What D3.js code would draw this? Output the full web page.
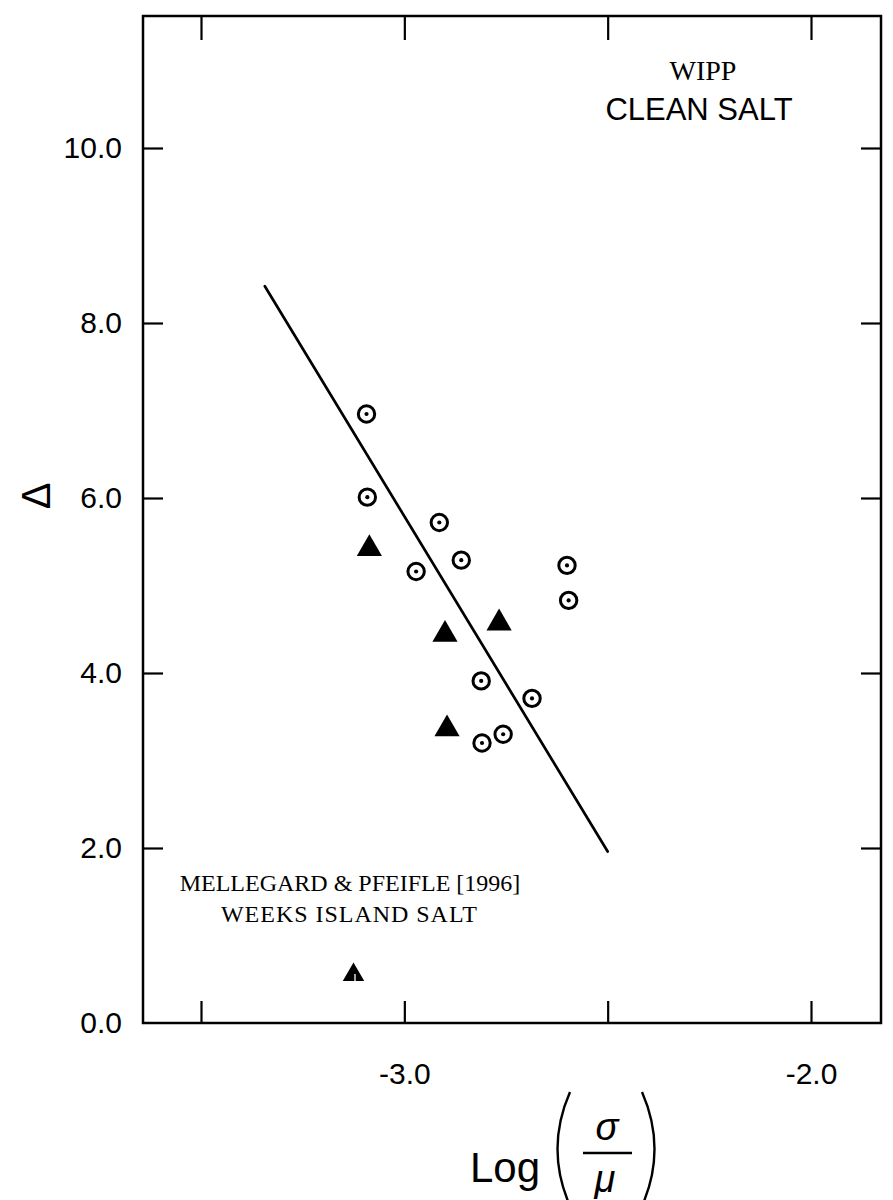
<!DOCTYPE html>
<html>
<head>
<meta charset="utf-8">
<script src="https://cdn.jsdelivr.net/npm/d3@7/dist/d3.min.js"></script>
<style>
  html, body { margin: 0; padding: 0; background: #fff; }
  svg { display: block; }
</style>
</head>
<body>
<svg id="chart" width="893" height="1200"></svg>
<script>
// ---- data ----
const wippX = [-3.093, -3.091, -2.914, -2.860, -2.971, -2.600, -2.596, -2.811, -2.686, -2.809, -2.757];
const wippY = [6.96, 6.01, 5.72, 5.29, 5.16, 5.23, 4.83, 3.91, 3.71, 3.20, 3.30];
const triX = [-3.086, -2.900, -2.767, -2.895];
const triY = [5.42, 4.44, 4.57, 3.36];
const weeksX = [-3.125];
const weeksY = [0.55];
const fitX = [-3.343, -2.50];
const fitY = [8.42, 1.96];
const xTicks = [-3.5, -3.0, -2.5, -2.0];
const xTickLabels = ["", "-3.0", "", "-2.0"];
const yTicks = [0, 2, 4, 6, 8, 10];

// ---- layout ----
const frame = { left: 143, right: 881, top: 16, bottom: 1023 };
const svg = d3.select("#chart");
const x = d3.scaleLinear().domain([-3.5, -2.0]).range([201, 811]);
const y = d3.scaleLinear().domain([0, 10]).range([1023, 148]);
const sans = "Arial, 'Liberation Sans', Helvetica, sans-serif";
const serif = "'Liberation Serif', 'Times New Roman', serif";

// frame
svg.append("rect")
  .attr("x", frame.left).attr("y", frame.top)
  .attr("width", frame.right - frame.left).attr("height", frame.bottom - frame.top)
  .attr("fill", "none").attr("stroke", "#000").attr("stroke-width", 2.5);

// bottom axis
const gx = svg.append("g").attr("transform", `translate(0,${frame.bottom})`)
  .call(d3.axisBottom(x).tickValues(xTicks).tickSize(-22).tickPadding(40)
        .tickFormat((d, i) => xTickLabels[i]));
// top axis ticks
const gxt = svg.append("g").attr("transform", `translate(0,${frame.top})`)
  .call(d3.axisTop(x).tickValues(xTicks).tickSize(-24).tickFormat(""));
// left axis
const gy = svg.append("g").attr("transform", `translate(${frame.left},0)`)
  .call(d3.axisLeft(y).tickValues(yTicks).tickSize(-20).tickPadding(21)
        .tickFormat(d3.format(".1f")));
// right axis ticks
const gyr = svg.append("g").attr("transform", `translate(${frame.right},0)`)
  .call(d3.axisRight(y).tickValues(yTicks.filter(d => d > 0)).tickSize(-20).tickFormat(""));

[gx, gxt, gy, gyr].forEach(g => {
  g.select(".domain").remove();
  g.selectAll(".tick line").attr("stroke", "#000").attr("stroke-width", 2.2);
  g.selectAll(".tick text").attr("fill", "#000")
    .style("font-family", sans).style("font-size", "30px");
});
gy.select(".tick:first-of-type line").remove();

// fit line
svg.append("line")
  .attr("x1", x(fitX[0])).attr("y1", y(fitY[0]))
  .attr("x2", x(fitX[1])).attr("y2", y(fitY[1]))
  .attr("stroke", "#000").attr("stroke-width", 2.7).attr("stroke-linecap", "round");

// circles with dot
const wipp = wippX.map((v, i) => ({ x: v, y: wippY[i] }));
const cg = svg.append("g").selectAll("g").data(wipp).join("g")
  .attr("transform", d => `translate(${x(d.x)},${y(d.y)})`);
cg.append("circle").attr("r", 8.2).attr("fill", "#fff").attr("stroke", "#000").attr("stroke-width", 3);
cg.append("circle").attr("r", 2.1).attr("fill", "#000");

// filled triangles
const triPath = d3.symbol().type(d3.symbolTriangle).size(275)();
const tris = triX.map((v, i) => ({ x: v, y: triY[i] }));
svg.append("g").selectAll("path").data(tris).join("path")
  .attr("d", triPath)
  .attr("transform", d => `translate(${x(d.x)},${y(d.y)})`)
  .attr("fill", "#000");

// Weeks Island triangle
const weeks = weeksX.map((v, i) => ({ x: v, y: weeksY[i] }));
const wg = svg.append("g").selectAll("g").data(weeks).join("g")
  .attr("transform", d => `translate(${x(d.x)},${y(d.y)})`);
wg.append("path").attr("d", d3.symbol().type(d3.symbolTriangle).size(200)()).attr("fill", "#000");
wg.append("line").attr("x1", 1.5).attr("x2", 1.5).attr("y1", -1).attr("y2", 7).attr("stroke", "#fff").attr("stroke-width", 1.3);

// annotations
svg.append("text").attr("x", 703).attr("y", 80).attr("text-anchor", "middle")
  .style("font-family", serif).style("font-size", "28px")
  .text("WIPP");
svg.append("text").attr("x", 699).attr("y", 120).attr("text-anchor", "middle")
  .style("font-family", sans).style("font-size", "31px")
  .text("CLEAN SALT");
svg.append("text").attr("x", 350).attr("y", 891).attr("text-anchor", "middle")
  .style("font-family", serif).style("font-size", "24px")
  .text("MELLEGARD & PFEIFLE [1996]");
svg.append("text").attr("x", 349).attr("y", 922).attr("text-anchor", "middle")
  .style("font-family", serif).style("font-size", "24px").attr("textLength", 256)
  .text("WEEKS ISLAND SALT");

// y label (Delta)
svg.append("text").attr("transform", "translate(36,496) rotate(-90)")
  .attr("text-anchor", "middle").attr("dy", "0.35em")
  .style("font-family", sans).style("font-size", "40px")
  .text("Δ");

// x label
const xl = svg.append("g");
xl.append("text").attr("x", 505).attr("y", 1182).attr("text-anchor", "middle")
  .style("font-family", sans).style("font-size", "42px")
  .text("Log");
xl.append("path").attr("d", "M570,1092 Q545,1149 570,1206")
  .attr("fill", "none").attr("stroke", "#000").attr("stroke-width", 2.4);
xl.append("path").attr("d", "M642,1092 Q667,1149 642,1206")
  .attr("fill", "none").attr("stroke", "#000").attr("stroke-width", 2.4);
xl.append("text").attr("x", 607).attr("y", 1140).attr("text-anchor", "middle")
  .style("font-family", sans).style("font-style", "italic").style("font-size", "38px")
  .text("σ");
xl.append("line").attr("x1", 583).attr("x2", 632).attr("y1", 1153).attr("y2", 1153)
  .attr("stroke", "#000").attr("stroke-width", 2.4);
xl.append("text").attr("x", 605).attr("y", 1192).attr("text-anchor", "middle")
  .style("font-family", sans).style("font-style", "italic").style("font-size", "38px")
  .text("μ");
</script>
</body>
</html>
